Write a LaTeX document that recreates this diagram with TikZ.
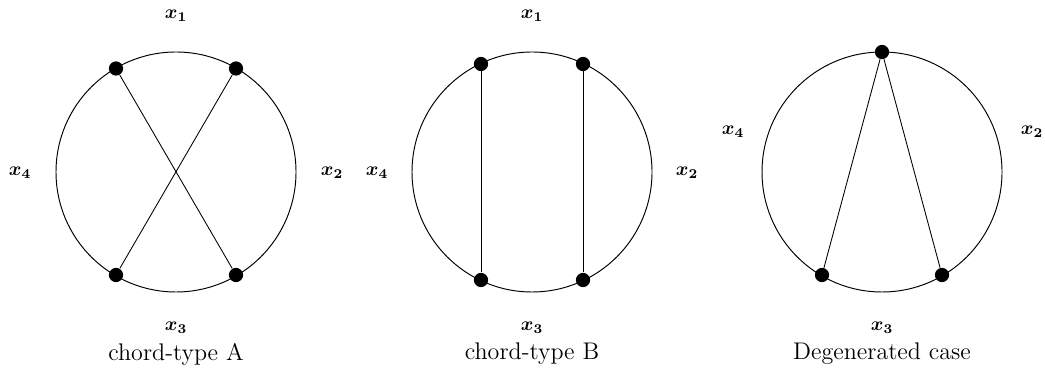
\documentclass[tikz,border=0pt]{standalone}
\usepackage{amsmath,bm}
\begin{document}
\begin{tikzpicture}[x=0.52pt,y=-0.52pt,
  dot/.style={circle,fill=black,inner sep=0pt,minimum size=7.4pt},
  lab/.style={inner sep=0pt},
  captext/.style={inner sep=0pt,font=\fontsize{12.5}{15}\selectfont},
  chord/.style={line width=0.45pt},
  ring/.style={line width=0.5pt}]
\useasboundingbox (0,0) rectangle (1045,369);
% ---- A ----
\coordinate (ca) at (176,172);
\draw[ring] (ca) circle[radius=120];
\node[dot] (a1) at (116,68.5) {};
\node[dot] (a2) at (236,68.5) {};
\node[dot] (a3) at (116,275) {};
\node[dot] (a4) at (236,275) {};
\draw[chord] (a1) -- (a4);
\draw[chord] (a2) -- (a3);
\node[lab] (ax1) at (176,16) {$\bm{x_1}$};
\node[lab] (ax2) at (332,173) {$\bm{x_2}$};
\node[lab] (ax3) at (176,328) {$\bm{x_3}$};
\node[lab] (ax4) at (20,173) {$\bm{x_4}$};
\node[captext] (capA) at (176,354) {chord-type A};
% ---- B ----
\coordinate (cb) at (532,172);
\draw[ring] (cb) circle[radius=120];
\node[dot] (b1) at (481,64) {};
\node[dot] (b2) at (583,64) {};
\node[dot] (b3) at (481,280) {};
\node[dot] (b4) at (583,280) {};
\draw[chord] (b1) -- (b3);
\draw[chord] (b2) -- (b4);
\node[lab] (bx1) at (532,16) {$\bm{x_1}$};
\node[lab] (bx2) at (687,173) {$\bm{x_2}$};
\node[lab] (bx3) at (532,328) {$\bm{x_3}$};
\node[lab] (bx4) at (377,173) {$\bm{x_4}$};
\node[captext] (capB) at (532,354) {chord-type B};
% ---- C ----
\coordinate (cc) at (882,172);
\draw[ring] (cc) circle[radius=120];
\node[dot] (c1) at (882,52) {};
\node[dot] (c3) at (822,275) {};
\node[dot] (c4) at (942,275) {};
\draw[chord] (c1) -- (c3);
\draw[chord] (c1) -- (c4);
\node[lab] (cx2) at (1032,132) {$\bm{x_2}$};
\node[lab] (cx3) at (882,328) {$\bm{x_3}$};
\node[lab] (cx4) at (733,132) {$\bm{x_4}$};
\node[captext] (capC) at (882,354) {Degenerated case};
\end{tikzpicture}
\end{document}
